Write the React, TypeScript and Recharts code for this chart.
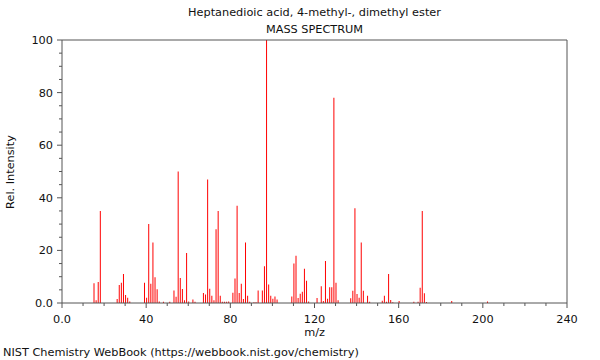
import React from 'react';
import { BarChart, Bar, XAxis, YAxis, ReferenceLine } from 'recharts';

const mzValues = [
  15, 16, 17, 18,
  26, 27, 28, 29, 30, 31, 32,
  39, 40, 41, 42, 43, 44, 45, 46, 48, 51, 53, 54, 55, 56, 57, 58, 59, 60, 62, 63,
  67, 68, 69, 70, 71, 72, 73, 74, 75, 76, 77, 78, 79,
  81, 82, 83, 84, 85, 86, 87, 88, 89, 91, 92, 93, 95, 96, 97, 98, 99, 100, 101, 102,
  109, 110, 111, 112, 113, 114, 115, 116, 117,
  121, 123, 124, 125, 126, 127, 128, 129, 130, 131,
  137, 138, 139, 140, 141, 142, 143, 145, 146,
  152, 153, 154, 155, 156, 157, 160, 167, 169, 170, 171, 172, 173, 185, 202,
];

const intensities = [
  7.5, 1, 8, 35,
  1.5, 6.8, 7.7, 11, 3, 2, 0.6,
  7.7, 2, 30, 7.3, 23, 9.8, 5.2, 0.6, 0.5, 0.5, 4.8, 2.4, 50, 9.5, 5.3, 1, 19, 0.6, 1.3, 0.5,
  3.8, 3.2, 47, 5.4, 2.8, 1, 28, 35, 2.8, 0.5, 0.5, 0.5, 0.6,
  3.9, 9.3, 37, 3.8, 7.3, 1.5, 23, 2.8, 0.5, 0.3, 0.3, 4.8, 4.8, 14, 100, 7, 2.8, 1.6, 2.5, 1.3,
  2.5, 15, 18, 1.9, 3.5, 4.3, 13, 8.5, 0.6,
  1.9, 6.4, 0.8, 16, 1.6, 6, 6, 78, 7.7, 1,
  1.8, 4.7, 36, 3.4, 2, 23, 4.7, 2.8, 0.5,
  0.9, 2.8, 0.5, 11, 1.1, 0.3, 0.8, 0.5, 0.5, 5.8, 35, 3.7, 0.4, 0.8, 0.6,
];

const xTickValues = [0, 10, 20, 30, 40, 50, 60, 70, 80, 90, 100, 110, 120, 130, 140, 150, 160, 170, 180, 190, 200, 210, 220, 230, 240];
const xLabelValues = [0, 40, 80, 120, 160, 200, 240];
const yTickValues = [0, 5, 10, 15, 20, 25, 30, 35, 40, 45, 50, 55, 60, 65, 70, 75, 80, 85, 90, 95, 100];
const yLabelValues = [0, 20, 40, 60, 80, 100];

const titleText = 'Heptanedioic acid, 4-methyl-, dimethyl ester';
const subtitleText = 'MASS SPECTRUM';
const xAxisTitle = 'm/z';
const yAxisTitle = 'Rel. Intensity';
const footerText = 'NIST Chemistry WebBook (https://webbook.nist.gov/chemistry)';

const data = mzValues.map((m, i) => ({ mz: m, intensity: intensities[i] }));

const FONT = '"DejaVu Sans", sans-serif';
const FS = 11.3;
const AXIS = '#555';

const fmt = (v: number) => (v === 0 ? '0.0' : String(v));

const XTick = (props: any) => {
  const { x, y, payload } = props;
  const v = payload.value as number;
  const major = xLabelValues.includes(v);
  return (
    <g>
      <line x1={x} y1={y} x2={x} y2={y + (major ? 5 : 3)} stroke={AXIS} strokeWidth={1} />
      {major && (
        <text x={x} y={y + 20} textAnchor="middle" fontSize={FS} fontFamily={FONT} fill="#111">
          {fmt(v)}
        </text>
      )}
    </g>
  );
};

const YTick = (props: any) => {
  const { x, y, payload } = props;
  const v = payload.value as number;
  const major = yLabelValues.includes(v);
  return (
    <g>
      <line x1={x} y1={y} x2={x - (major ? 5 : 3)} y2={y} stroke={AXIS} strokeWidth={1} />
      {major && (
        <text x={x - 9} y={y + 4} textAnchor="end" fontSize={FS} fontFamily={FONT} fill="#111">
          {fmt(v)}
        </text>
      )}
    </g>
  );
};

export default function App() {
  return (
    <div style={{ position: 'absolute', left: 0, top: 0, width: 600, height: 360, background: '#fff', fontFamily: FONT, color: '#111' }}>
      <BarChart
        width={600}
        height={360}
        data={data}
        margin={{ top: 40, right: 33, bottom: 0, left: 12 }}
        barCategoryGap={0}
      >
        <XAxis
          type="number"
          dataKey="mz"
          domain={[0, 240]}
          ticks={xTickValues}
          interval={0}
          tick={<XTick />}
          tickLine={false}
          tickSize={0}
          tickMargin={0}
          stroke={AXIS}
          height={57}
          allowDataOverflow
        />
        <YAxis
          type="number"
          domain={[0, 100]}
          ticks={yTickValues}
          interval={0}
          tick={<YTick />}
          tickLine={false}
          tickSize={0}
          tickMargin={0}
          stroke={AXIS}
          width={50}
          allowDataOverflow
        />
        <ReferenceLine y={100} stroke={AXIS} strokeWidth={1} />
        <ReferenceLine x={240} stroke={AXIS} strokeWidth={1} />
        <Bar dataKey="intensity" fill="#ff0000" barSize={1} isAnimationActive={false} />
      </BarChart>
      <div style={{ position: 'absolute', left: 62, width: 505, top: 6, fontSize: FS, lineHeight: '14px', textAlign: 'center' }}>{titleText}</div>
      <div style={{ position: 'absolute', left: 62, width: 505, top: 23, fontSize: FS, lineHeight: '14px', textAlign: 'center' }}>{subtitleText}</div>
      <div style={{ position: 'absolute', left: 62, width: 505, top: 326, fontSize: FS, lineHeight: '14px', textAlign: 'center' }}>{xAxisTitle}</div>
      <div style={{ position: 'absolute', left: 3, top: 346, fontSize: FS, lineHeight: '14px', whiteSpace: 'nowrap' }}>{footerText}</div>
      <div style={{ position: 'absolute', left: 11, top: 172, width: 0, height: 0 }}>
        <div style={{ position: 'absolute', left: -60, top: -7, width: 120, fontSize: FS, lineHeight: '14px', textAlign: 'center', transform: 'rotate(-90deg)', whiteSpace: 'nowrap' }}>{yAxisTitle}</div>
      </div>
    </div>
  );
}
